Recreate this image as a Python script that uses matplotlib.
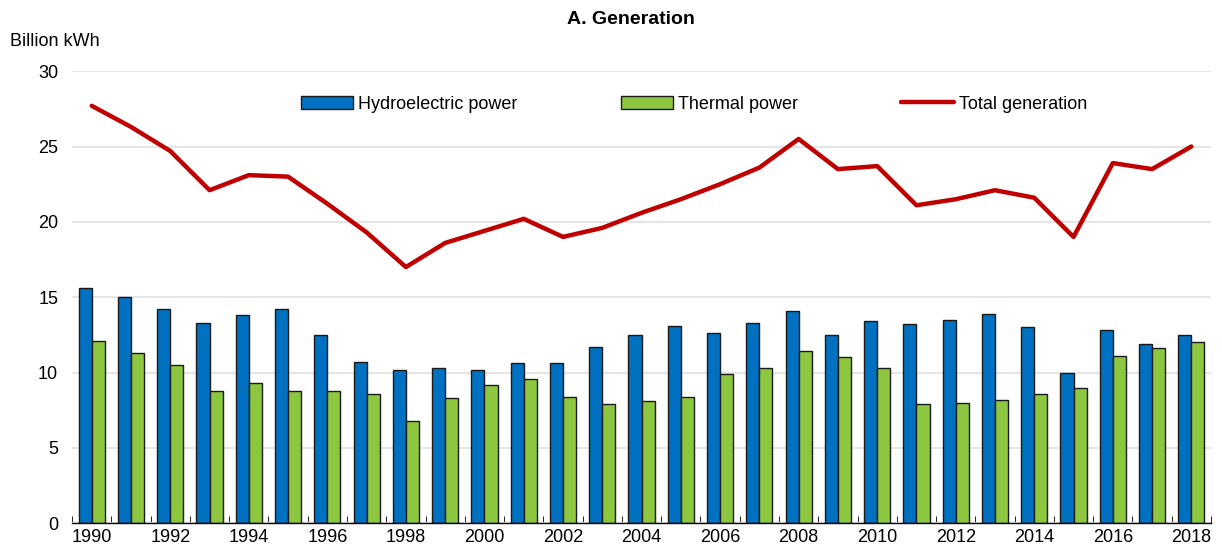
import matplotlib
matplotlib.use("Agg")
import matplotlib.pyplot as plt
import numpy as np

plt.rcParams['font.family'] = ['Liberation Sans', 'DejaVu Sans']

years = list(range(1990, 2019))
hydro = [15.6, 15.0, 14.2, 13.3, 13.8, 14.2, 12.5, 10.7, 10.2, 10.3,
         10.2, 10.6, 10.6, 11.7, 12.5, 13.1, 12.6, 13.3, 14.1, 12.5,
         13.4, 13.2, 13.5, 13.9, 13.0, 10.0, 12.8, 11.9, 12.5]
thermal = [12.1, 11.3, 10.5, 8.8, 9.3, 8.8, 8.8, 8.6, 6.8, 8.3,
           9.2, 9.6, 8.4, 7.9, 8.1, 8.4, 9.9, 10.3, 11.4, 11.0,
           10.3, 7.9, 8.0, 8.2, 8.6, 9.0, 11.1, 11.6, 12.0]
total = [27.7, 26.3, 24.7, 22.1, 23.1, 23.0, 21.2, 19.3, 17.0, 18.6,
         19.4, 20.2, 19.0, 19.6, 20.6, 21.5, 22.5, 23.6, 25.5, 23.5,
         23.7, 21.1, 21.5, 22.1, 21.6, 19.0, 23.9, 23.5, 25.0]

fig = plt.figure(figsize=(12.22, 5.56), dpi=100)
ax = fig.add_axes([0.059, 0.059, 0.932, 0.813])

x = np.arange(len(years))
w = 1 / 3
b1 = ax.bar(x - w / 2, hydro, w, color='#0070C0', edgecolor='#1a1a1a', linewidth=1.0,
            label='Hydroelectric power', zorder=2)
b2 = ax.bar(x + w / 2, thermal, w, color='#8DC63F', edgecolor='#1a1a1a', linewidth=1.0,
            label='Thermal power', zorder=2)
ln, = ax.plot(x, total, color='#C00000', linewidth=3.2, label='Total generation',
              zorder=3, solid_capstyle='round')

ax.set_xlim(-0.5, len(years) - 0.5)
ax.set_ylim(0, 30)
ax.set_yticks(range(0, 31, 5))
ax.yaxis.grid(True, color='#e3e3e3', linewidth=1.3)
ax.set_axisbelow(True)

ax.set_xticks(x[::2])
ax.set_xticklabels([str(y) for y in years[::2]])
ax.set_xticks(np.arange(-0.5, len(years), 1), minor=True)
ax.tick_params(axis='x', which='major', length=0, labelsize=13, pad=4)
ax.tick_params(axis='x', which='minor', length=5, direction='in', color='black')
ax.tick_params(axis='y', length=0, labelsize=13, pad=10)

for s in ['top', 'right', 'left']:
    ax.spines[s].set_visible(False)
ax.spines['bottom'].set_color('black')
ax.spines['bottom'].set_linewidth(1.0)

ax.legend([b1, b2, ln], ['Hydroelectric power', 'Thermal power', 'Total generation'],
          loc='upper center', bbox_to_anchor=(0.546, 0.982), ncol=3, frameon=False,
          fontsize=13, handlelength=2.9, handleheight=0.75, handletextpad=0.3,
          columnspacing=5.7)

fig.text(0.008, 0.925, 'Billion kWh', fontsize=13, ha='left', va='center')
fig.text(0.516, 0.965, 'A. Generation', fontsize=14, fontweight='bold',
         ha='center', va='center')

fig.savefig('out.png', dpi=100)
